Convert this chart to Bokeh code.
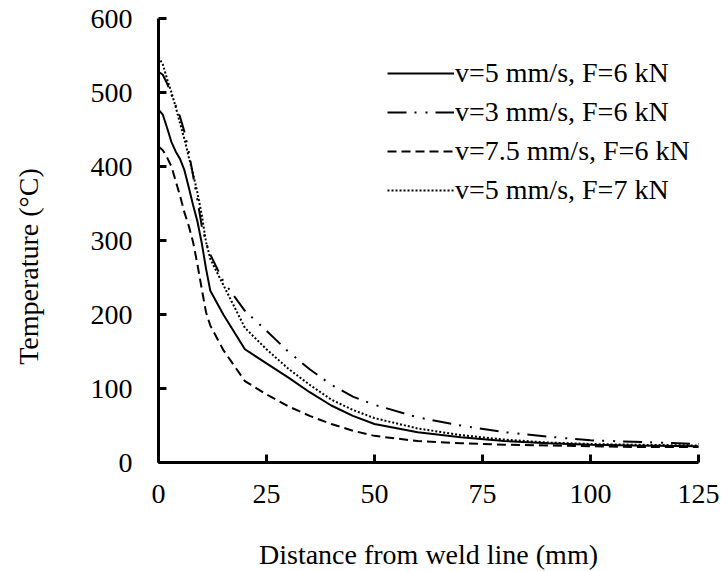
import math
from bokeh.plotting import figure
from bokeh.models import FixedTicker, Legend, LegendItem, Label, Range1d
from bokeh.embed import file_html
from bokeh.resources import INLINE

distance = [0, 1, 2, 3, 4, 5, 6, 7, 8, 9, 10, 11, 12, 15, 20, 25, 30, 35, 40, 45,
            50, 60, 70, 80, 90, 100, 110, 125]
t_v5_f6 = [477, 470, 452, 433, 420, 410, 395, 372, 348, 326, 297, 262, 232, 200, 153,
           134, 115, 95, 77, 63, 52, 41, 34, 29, 26, 24, 23, 22]
t_v3_f6 = [528, 524, 512, 497, 482, 467, 447, 420, 388, 355, 320, 297, 281, 245, 205,
           178, 150, 126, 105, 89, 78, 61, 50, 41, 35, 30, 28, 25]
t_v75_f6 = [427, 422, 412, 400, 380, 360, 338, 320, 298, 268, 235, 203, 185, 152, 110,
            92, 76, 63, 52, 43, 36, 29, 26, 24, 23, 22, 21, 21]
t_v5_f7 = [548, 538, 518, 500, 480, 458, 437, 413, 390, 365, 335, 298, 275, 240, 182,
           153, 127, 105, 85, 71, 60, 46, 37, 31, 27, 25, 24, 23]

series_names = ["v=5 mm/s, F=6 kN", "v=3 mm/s, F=6 kN", "v=7.5 mm/s, F=6 kN", "v=5 mm/s, F=7 kN"]
x_ticks = [0, 25, 50, 75, 100, 125]
y_ticks = [0, 100, 200, 300, 400, 500, 600]
x_title = "Distance from weld line (mm)"
y_title = "Temperature (°C)"

FONT = "Liberation Serif"
FS = "28px"

# layout geometry (pixels): plotting box of the axes inside the 721x571 canvas
W, H = 721, 571
AX_L, AX_R, AX_T, AX_B = 158, 698, 18, 462
X0, X1 = x_ticks[0], x_ticks[-1]
Y0, Y1 = y_ticks[0], y_ticks[-1]
kx = (AX_R - AX_L) / (X1 - X0)
ky = (AX_B - AX_T) / (Y1 - Y0)
x_range = Range1d(X0 - AX_L / kx, X0 + (W - AX_L) / kx)
y_range = Range1d(Y0 - (H - AX_B) / ky, Y0 + AX_B / ky)

def px_to_x(px):
    return X0 + (px - AX_L) / kx

def px_to_y(py):
    return Y0 + (AX_B - py) / ky

p = figure(width=W, height=H, x_range=x_range, y_range=y_range,
           output_backend="svg", toolbar_location=None,
           min_border=0, min_border_left=0, min_border_right=0,
           min_border_top=0, min_border_bottom=0)
p.outline_line_color = None
p.xgrid.visible = False
p.ygrid.visible = False
p.background_fill_color = "white"
p.border_fill_color = "white"

for ax, ticks in ((p.xaxis, x_ticks), (p.yaxis, y_ticks)):
    ax.ticker = FixedTicker(ticks=ticks)
    ax.bounds = (ticks[0], ticks[-1])
    ax.fixed_location = 0
    ax.axis_line_width = 3
    ax.axis_line_color = "black"
    ax.major_tick_line_width = 3
    ax.major_tick_line_color = "black"
    ax.major_tick_in = 8
    ax.major_tick_out = 0
    ax.minor_tick_line_color = None
    ax.major_label_text_font = FONT
    ax.major_label_text_font_size = FS
    ax.major_label_text_color = "black"
p.xaxis.major_label_standoff = 22
p.yaxis.major_label_standoff = 26

styles = [
    dict(line_dash="solid"),
    dict(line_dash="19 8 2 9 2 8"),
    dict(line_dash="9 5"),
    dict(line_dash="2 2"),
]
series = [t_v5_f6, t_v3_f6, t_v75_f6, t_v5_f7]
items = []
for name, ys, st in zip(series_names, series, styles):
    r = p.line(distance, ys, line_color="black", line_width=2, **st)
    items.append(LegendItem(label=name, renderers=[r]))

legend = Legend(items=items, location=(387, 364))
legend.label_text_font = FONT
legend.label_text_font_size = FS
legend.label_text_color = "black"
legend.glyph_width = 67
legend.glyph_height = 34
legend.label_height = 34
legend.label_standoff = 1
legend.spacing = 5
legend.padding = 0
legend.margin = 0
legend.border_line_color = None
legend.background_fill_alpha = 0
p.add_layout(legend)

p.add_layout(Label(x=px_to_x(28), y=px_to_y(266), text=y_title, angle=math.pi / 2,
                   text_align="center", text_baseline="middle",
                   text_font=FONT, text_font_size=FS, text_color="black"))
p.add_layout(Label(x=px_to_x(428), y=px_to_y(554), text=x_title,
                   text_align="center", text_baseline="middle",
                   text_font=FONT, text_font_size=FS, text_color="black"))

open("out.html", "w").write(file_html(p, INLINE))
